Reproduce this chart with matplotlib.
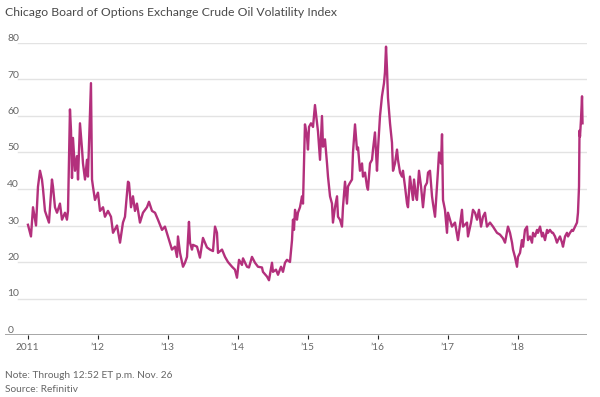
import matplotlib
matplotlib.use("Agg")
import matplotlib.pyplot as plt

# ---- data (decimal years, index value) ----
dates = [
 2011.004, 2011.047, 2011.076, 2011.119, 2011.147, 2011.176, 2011.204, 2011.219, 2011.247, 2011.276,
 2011.304, 2011.347, 2011.361, 2011.390, 2011.419, 2011.461, 2011.490, 2011.533, 2011.561, 2011.576,
 2011.604, 2011.619, 2011.633, 2011.647, 2011.676, 2011.704, 2011.719, 2011.747, 2011.776, 2011.790,
 2011.819, 2011.847, 2011.861, 2011.904, 2011.919, 2011.933, 2011.961,
 2012.004, 2012.033, 2012.076, 2012.104, 2012.147, 2012.190, 2012.219, 2012.276, 2012.319, 2012.361,
 2012.390, 2012.433, 2012.447, 2012.476, 2012.504, 2012.533, 2012.561, 2012.604, 2012.647, 2012.704,
 2012.733, 2012.776, 2012.819, 2012.861, 2012.919, 2012.961,
 2013.004, 2013.061, 2013.104, 2013.133, 2013.147, 2013.176, 2013.219, 2013.247, 2013.276, 2013.304,
 2013.319, 2013.347, 2013.361, 2013.419, 2013.461, 2013.504, 2013.561, 2013.604, 2013.647, 2013.676,
 2013.704, 2013.719, 2013.776, 2013.819, 2013.861, 2013.919, 2013.961, 2013.990,
 2014.019, 2014.061, 2014.076, 2014.133, 2014.161, 2014.204, 2014.247, 2014.290, 2014.347, 2014.361,
 2014.419, 2014.447, 2014.490, 2014.504, 2014.547, 2014.576, 2014.619, 2014.647, 2014.676, 2014.704,
 2014.747, 2014.776, 2014.790, 2014.804, 2014.819, 2014.847, 2014.861, 2014.890, 2014.919, 2014.933,
 2014.961, 2014.990,
 2015.004, 2015.019, 2015.047, 2015.076, 2015.104, 2015.133, 2015.147, 2015.176, 2015.204, 2015.219,
 2015.247, 2015.276, 2015.290, 2015.319, 2015.347, 2015.361, 2015.390, 2015.419, 2015.433, 2015.461,
 2015.490, 2015.504, 2015.533, 2015.561, 2015.576, 2015.604, 2015.633, 2015.647, 2015.676, 2015.704,
 2015.719, 2015.747, 2015.776, 2015.790, 2015.819, 2015.847, 2015.861, 2015.890, 2015.919, 2015.933,
 2015.961, 2015.990,
 2016.004, 2016.033, 2016.061, 2016.076, 2016.090, 2016.104, 2016.119, 2016.133, 2016.147, 2016.176,
 2016.204, 2016.219, 2016.247, 2016.276, 2016.290, 2016.319, 2016.347, 2016.361, 2016.390, 2016.419,
 2016.433, 2016.461, 2016.490, 2016.504, 2016.519, 2016.547, 2016.561, 2016.590, 2016.619, 2016.647,
 2016.676, 2016.704, 2016.719, 2016.747, 2016.776, 2016.790, 2016.819, 2016.847, 2016.861, 2016.876,
 2016.904, 2016.919, 2016.933, 2016.961, 2016.990,
 2017.004, 2017.033, 2017.061, 2017.104, 2017.147, 2017.204, 2017.219, 2017.276, 2017.290, 2017.333,
 2017.361, 2017.390, 2017.419, 2017.447, 2017.476, 2017.504, 2017.533, 2017.561, 2017.604, 2017.647,
 2017.704, 2017.747, 2017.790, 2017.819, 2017.861, 2017.890, 2017.919, 2017.933, 2017.961, 2017.990,
 2018.004, 2018.033, 2018.061, 2018.076, 2018.104, 2018.133, 2018.147, 2018.176, 2018.204, 2018.219,
 2018.247, 2018.276, 2018.290, 2018.319, 2018.347, 2018.361, 2018.390, 2018.419, 2018.433, 2018.461,
 2018.490, 2018.504, 2018.533, 2018.561, 2018.576, 2018.604, 2018.633, 2018.647, 2018.676, 2018.704,
 2018.719, 2018.747, 2018.776, 2018.790, 2018.819, 2018.847, 2018.861, 2018.876, 2018.883, 2018.890,
 2018.904, 2018.919, 2018.926,
]
vix = [
 30.2, 27.0, 35.0, 30.0, 40.6, 45.0, 42.6, 40.0, 34.0, 32.4,
 30.8, 42.6, 40.7, 35.0, 33.5, 36.0, 31.6, 33.5, 31.6, 34.0,
 61.8, 56.0, 43.0, 54.0, 45.0, 49.0, 42.6, 58.0, 51.0, 47.0,
 42.6, 48.0, 43.4, 69.0, 42.6, 40.6, 37.0,
 39.0, 34.0, 35.0, 32.4, 34.0, 32.4, 28.0, 30.0, 25.3, 30.8,
 32.4, 42.0, 41.7, 35.0, 38.0, 34.0, 36.0, 30.8, 33.5, 35.0,
 36.5, 34.0, 33.5, 31.6, 28.8, 29.7,
 27.0, 23.4, 24.2, 21.4, 27.0, 22.5, 18.7, 19.8, 21.4, 31.0,
 25.3, 23.4, 24.7, 24.2, 21.2, 26.6, 24.0, 23.4, 23.0, 29.7,
 28.0, 22.5, 23.4, 21.4, 20.0, 18.7, 17.9, 15.7,
 20.6, 19.2, 21.0, 18.7, 18.5, 21.4, 19.8, 18.7, 18.5, 17.3,
 16.0, 15.0, 19.8, 17.3, 17.9, 16.5, 18.7, 17.3, 19.8, 20.6,
 20.0, 26.0, 31.6, 28.8, 34.3, 31.6, 33.5, 35.0, 38.0, 36.0,
 57.7, 54.4,
 50.8, 57.0, 58.0, 57.0, 63.0, 58.0, 55.8, 48.0, 60.0, 51.6,
 53.6, 47.0, 43.4, 38.0, 36.0, 30.8, 35.0, 38.0, 32.4, 31.6,
 29.7, 35.0, 42.0, 36.0, 40.7, 41.7, 42.6, 50.0, 57.7, 50.8,
 51.4, 45.0, 47.0, 43.4, 44.5, 40.7, 39.8, 47.0, 48.0, 50.8,
 55.5, 45.0,
 50.8, 60.0, 65.4, 67.3, 69.0, 72.0, 79.0, 72.8, 65.0, 58.0,
 52.7, 45.0, 47.0, 50.8, 48.0, 44.5, 43.4, 45.0, 40.7, 36.0,
 35.0, 43.4, 39.0, 37.0, 42.6, 38.0, 37.0, 45.0, 40.7, 35.0,
 40.7, 41.7, 44.5, 45.0, 38.0, 36.0, 32.4, 40.7, 45.0, 50.0,
 47.0, 55.0, 37.0, 34.3, 28.0,
 33.5, 31.6, 29.7, 30.8, 26.0, 34.3, 29.7, 30.8, 27.0, 30.8,
 34.3, 33.5, 31.6, 34.3, 29.7, 32.4, 33.5, 29.7, 30.8, 29.7,
 28.0, 27.5, 26.5, 25.3, 29.7, 28.0, 25.3, 23.4, 21.4, 18.7,
 21.4, 22.5, 26.0, 24.2, 28.8, 29.7, 26.0, 27.0, 25.3, 28.0,
 27.0, 28.8, 28.0, 29.7, 27.0, 28.0, 26.0, 28.8, 28.0, 28.8,
 28.0, 28.0, 27.0, 25.3, 26.0, 27.0, 25.3, 24.2, 27.0, 28.0,
 27.0, 28.0, 28.8, 28.5, 29.7, 30.8, 33.5, 40.7, 56.0, 54.4,
 59.0, 65.4, 58.0,
]
y_ticks = [0, 10, 20, 30, 40, 50, 60, 70, 80]
x_ticks = [2011, 2012, 2013, 2014, 2015, 2016, 2017, 2018]
x_labels = ["2011", "\u201912", "\u201913", "\u201914", "\u201915", "\u201916", "\u201917", "\u201918"]

title = "Chicago Board of Options Exchange Crude Oil Volatility Index"
note = "Note: Through 12:52 ET p.m. Nov. 26"
source = "Source: Refinitiv"

FONT = ["Lato", "DejaVu Sans"]
LINE = "#b3307c"

fig = plt.figure(figsize=(6.0, 3.97), dpi=100)
ax = fig.add_axes([5 / 600, 62 / 397, 582 / 600, 292 / 397])
ax.set_xlim(2010.676, 2018.99)
ax.set_ylim(0, 80)
for s in ax.spines.values():
    s.set_visible(False)

# gridlines (start a little right of the labels)
for v in y_ticks[1:]:
    ax.axhline(v, xmin=0.022, xmax=1, color="#e3e3e3", lw=1.0, zorder=1)
# y labels sitting on the gridlines
for v in y_ticks:
    ax.text(0.004, v, str(v), transform=ax.get_yaxis_transform(), ha="left",
            va="bottom", fontsize=7.5, color="#666666", family=FONT)
ax.set_yticks([])

ax.plot(dates, vix, color=LINE, lw=1.7, zorder=3, solid_joinstyle="round")

# baseline
ax.axhline(0, color="#8c8c8c", lw=1.8, zorder=4)
ax.set_xticks(x_ticks)
ax.set_xticklabels(x_labels, fontsize=7.3, color="#666666", family=FONT)
ax.tick_params(axis="x", length=3, width=0.8, color="#222222", pad=3)

fig.text(5 / 600, 1 - 12 / 397, title, ha="left", va="center", fontsize=8.8,
         color="#4a4a4a", family=FONT)
fig.text(5 / 600, 1 - 375 / 397, note, ha="left", va="center", fontsize=7.3,
         color="#666666", family=FONT)
fig.text(5 / 600, 1 - 389 / 397, source, ha="left", va="center", fontsize=7.3,
         color="#666666", family=FONT)

fig.savefig("out.png", dpi=100)
